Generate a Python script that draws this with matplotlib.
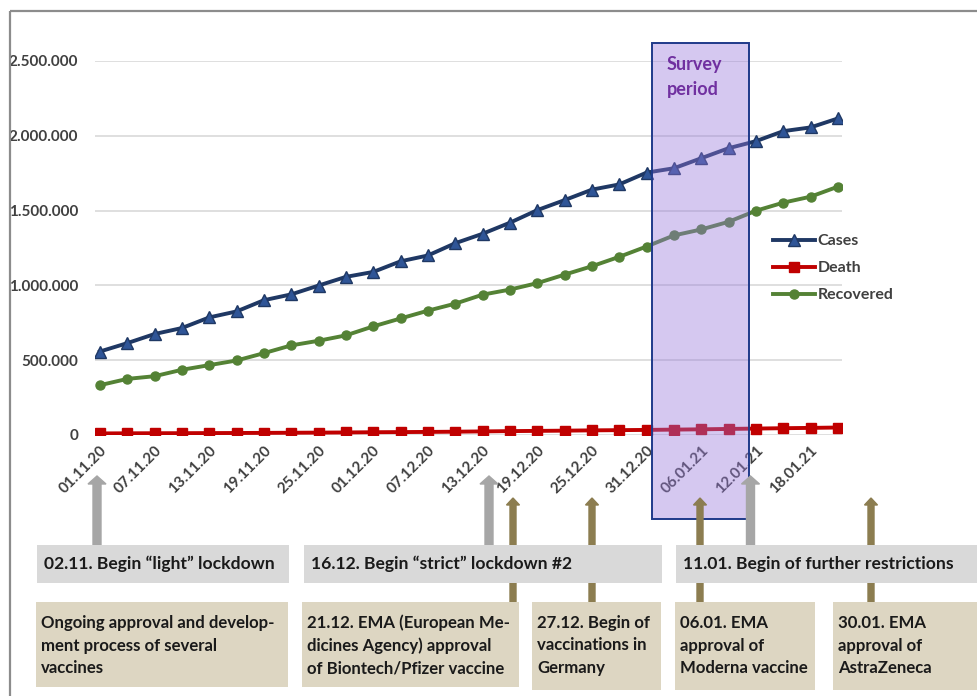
import matplotlib
matplotlib.use("Agg")
import matplotlib.pyplot as plt
import matplotlib.patches as mpatches
from matplotlib.ticker import FuncFormatter

plt.rcParams['font.family'] = ['Lato', 'DejaVu Sans']
plt.rcParams['font.weight'] = 'bold'

# reporting dates, every third day
dates = ["01.11.20", "04.11.20", "07.11.20", "10.11.20", "13.11.20", "16.11.20",
         "19.11.20", "22.11.20", "25.11.20", "28.11.20", "01.12.20", "04.12.20",
         "07.12.20", "10.12.20", "13.12.20", "16.12.20", "19.12.20", "22.12.20",
         "25.12.20", "28.12.20", "31.12.20", "03.01.21", "06.01.21", "09.01.21",
         "12.01.21", "15.01.21", "18.01.21", "21.01.21"]

# cumulative counts
cases = [558000, 614000, 675000, 715000, 786000, 826000, 901000, 940000,
         999000, 1057000, 1090000, 1161000, 1200000, 1282000, 1345000, 1419000,
         1503000, 1570000, 1640000, 1675000, 1754000, 1783000, 1850000, 1917000,
         1964000, 2031000, 2056000, 2116000]
death = [10500, 11300, 11800, 12200, 12800, 13400, 14100, 15000, 15900, 17000,
         18500, 19500, 20600, 22000, 24000, 26000, 27500, 29000, 31000, 32500,
         34000, 36000, 38000, 40500, 43000, 45500, 47500, 50000]
recovered = [333000, 375000, 393000, 436000, 467000, 498000, 547000, 599000,
             630000, 666000, 726000, 779000, 831000, 878000, 938000, 972000,
             1015000, 1072000, 1128000, 1191000, 1260000, 1334000, 1374000,
             1425000, 1499000, 1553000, 1593000, 1660000]

# survey period on the date index scale
survey_start = 20.2
survey_end = 23.76

lockdown_events = ["02.11. Begin \u201clight\u201d lockdown",
                   "16.12. Begin \u201cstrict\u201d lockdown #2",
                   "11.01. Begin of further restrictions"]
vaccine_events = [["Ongoing approval and develop-", "ment process of several", "vaccines"],
                  ["21.12. EMA (European Me-", "dicines Agency) approval", "of Biontech/Pfizer vaccine"],
                  ["27.12. Begin of", "vaccinations in", "Germany"],
                  ["06.01. EMA", "approval of", "Moderna vaccine"],
                  ["30.01. EMA", "approval of", "AstraZeneca"]]

W, H = 977, 696
fig = plt.figure(figsize=(W / 100, H / 100), dpi=100)
fig.patch.set_facecolor('white')

ax = fig.add_axes([95 / W, 1 - 435 / H, (842 - 95) / W, (435 - 61) / H])
x = list(range(len(dates)))

ax.plot(x, cases, color='#1f3864', lw=2.8, marker='^', ms=8,
        mfc='#2f5597', mec='#1f3864', mew=1, label='Cases', zorder=3)
ax.plot(x, death, color='#c00000', lw=2.8, marker='s', ms=6.5,
        mfc='#c00000', mec='#c00000', label='Death', zorder=3)
ax.plot(x, recovered, color='#548235', lw=2.8, marker='o', ms=6.5,
        mfc='#548235', mec='#548235', label='Recovered', zorder=3)

ax.set_xlim(-0.18, 27.15)
ax.set_ylim(0, 2500000)
ax.set_yticks([0, 500000, 1000000, 1500000, 2000000, 2500000])
ax.yaxis.set_major_formatter(FuncFormatter(lambda v, p: f"{v:,.0f}".replace(",", ".")))
ax.set_xticks(x[::2])
ax.set_xticklabels(dates[::2], rotation=45, ha='right', va='top',
                   rotation_mode='anchor', fontsize=11, color='#404040')
ax.tick_params(axis='both', length=0, labelsize=11, labelcolor='#404040')
ax.tick_params(axis='y', pad=12)
ax.tick_params(axis='x', pad=6)
ax.grid(axis='y', color='#d9d9d9', lw=1.2)
ax.set_axisbelow(True)
for s in ax.spines.values():
    s.set_visible(False)

# survey window, drawn over the lines and reaching below the axis
ax.add_patch(mpatches.Rectangle((survey_start, -563000), survey_end - survey_start,
                                2622000 + 563000, facecolor=(150 / 255, 118 / 255, 218 / 255, 0.4),
                                edgecolor='#1f3a8a', lw=1.4, clip_on=False, zorder=5))

leg = ax.legend(loc='upper left', bbox_to_anchor=(773 / W, 1 - 234 / H),
                bbox_transform=fig.transFigure, frameon=False, fontsize=11.5,
                handlelength=2.6, handletextpad=0.2, labelspacing=0.8,
                borderpad=0, borderaxespad=0)
for t in leg.get_texts():
    t.set_color('#404040')

# overlay in pixel units for the event timeline
ov = fig.add_axes([0, 0, 1, 1])
ov.set_xlim(0, W)
ov.set_ylim(H, 0)
ov.axis('off')
ov.patch.set_alpha(0)

ov.text(667, 70, "Survey", color='#7030a0', fontsize=13, fontweight='bold',
        va='baseline', ha='left', zorder=6)
ov.text(667, 95.5, "period", color='#7030a0', fontsize=13, fontweight='bold',
        va='baseline', ha='left', zorder=6)

ov.plot([10, 10], [H + 5, 11], color='#8c8c8c', lw=1.6, solid_capstyle='butt')
ov.plot([10, W + 5], [11, 11], color='#8c8c8c', lw=1.6, solid_capstyle='butt')

for ax_x in [97, 489, 750.5]:
    ov.add_patch(mpatches.FancyArrow(ax_x, 546, 0, -(546 - 476), width=8, head_width=18,
                                     head_length=8, length_includes_head=True,
                                     color='#a6a6a6', zorder=2))
for ax_x in [513, 592, 700, 871]:
    ov.add_patch(mpatches.FancyArrow(ax_x, 603, 0, -(603 - 498), width=6, head_width=13,
                                     head_length=7, length_includes_head=True,
                                     color='#8c7d50', zorder=2))

gray_boxes = [(37, 289), (304, 662), (676, 985)]
for (x0, x1), label in zip(gray_boxes, lockdown_events):
    ov.add_patch(mpatches.Rectangle((x0, 545), x1 - x0, 38, facecolor='#d9d9d9',
                                    edgecolor='none', zorder=3))
    ov.text(x0 + 7, 564, label, fontsize=12.6, color='#1a1a1a', va='center', ha='left',
            fontweight='bold', zorder=4)

tan_boxes = [(36, 288, 687), (302, 519, 687), (532, 661, 690), (675, 815, 690), (833, 985, 690)]
for (x0, x1, y1), lines in zip(tan_boxes, vaccine_events):
    ov.add_patch(mpatches.Rectangle((x0, 602), x1 - x0, y1 - 602, facecolor='#ddd6c2',
                                    edgecolor='none', zorder=3))
    for i, line in enumerate(lines):
        ov.text(x0 + 5, 623 + i * 22.5, line, fontsize=12.1, color='#1a1a1a',
                va='center', ha='left', fontweight='bold', zorder=4)

fig.savefig('out.png', dpi=100)
